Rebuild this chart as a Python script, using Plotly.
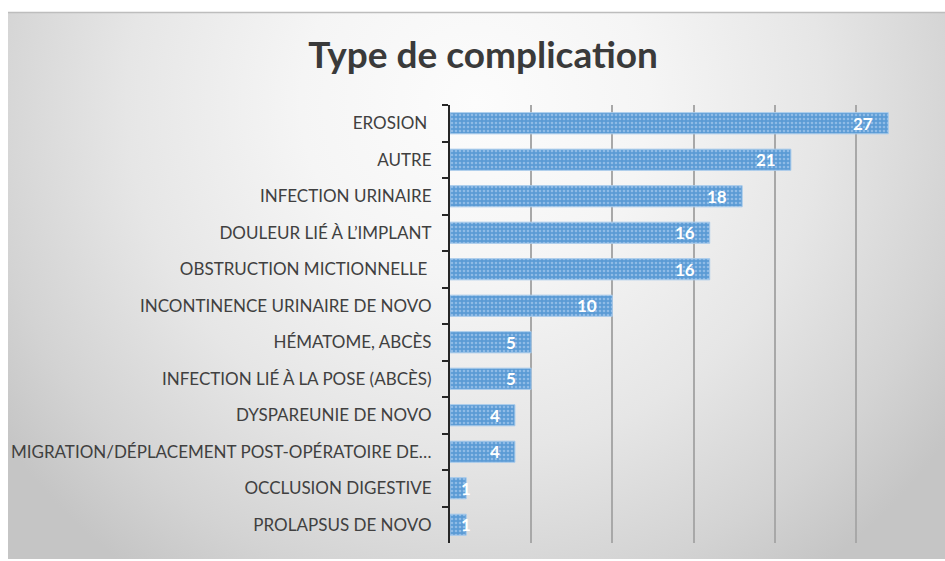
import base64
import plotly.graph_objects as go

categories = [
    "EROSION\u00a0",
    "AUTRE",
    "INFECTION URINAIRE",
    "DOULEUR LIÉ À L\u2019IMPLANT",
    "OBSTRUCTION MICTIONNELLE\u00a0",
    "INCONTINENCE URINAIRE DE NOVO",
    "HÉMATOME, ABCÈS",
    "INFECTION LIÉ À LA POSE (ABCÈS)",
    "DYSPAREUNIE DE NOVO",
    "MIGRATION/DÉPLACEMENT POST-OPÉRATOIRE DE\u2026",
    "OCCLUSION DIGESTIVE",
    "PROLAPSUS DE NOVO",
]
values = [27, 21, 18, 16, 16, 10, 5, 5, 4, 4, 1, 1]
title_text = "Type de complication"

W, H = 945, 561
L, R, T, B = 450, 8, 105, 18
pw, ph = W - L - R, H - T - B

def px_x(p):
    return (p - L) / pw

def px_y(p):
    return (H - B - p) / ph

# radial gradient background as svg image
bx0, by0, bx1, by1 = 8, 12.5, 945, 559
bw, bh = bx1 - bx0, by1 - by0
svg = f'''<svg xmlns="http://www.w3.org/2000/svg" width="{bw}" height="{bh}" viewBox="0 0 {bw} {bh}" preserveAspectRatio="none">
<defs><radialGradient id="g" gradientUnits="userSpaceOnUse" cx="0" cy="0" r="1"
 gradientTransform="translate(467,90) scale(580,580)">
<stop offset="0" stop-color="#fcfcfc"/>
<stop offset="0.3" stop-color="#f5f5f5"/>
<stop offset="0.6" stop-color="#e6e6e6"/>
<stop offset="0.85" stop-color="#d3d3d3"/>
<stop offset="1.0" stop-color="#c5c5c5"/>
</radialGradient></defs>
<rect x="0" y="0" width="{bw}" height="{bh}" fill="url(#g)"/>
</svg>'''
src = "data:image/svg+xml;base64," + base64.b64encode(svg.encode()).decode()

fig = go.Figure()
fig.add_trace(go.Bar(
    x=values, y=categories, orientation="h",
    marker=dict(
        color="#5b9bd5",
        line=dict(color="#a9cbeb", width=1),
        pattern=dict(shape=".", fgcolor="#8fbbe6", bgcolor="#5b9bd5",
                     size=4, solidity=0.35, fillmode="replace"),
    ),
    hoverinfo="skip",
))

annotations = []
for c, v in zip(categories, values):
    annotations.append(dict(
        x=v, y=c, xref="x", yref="y", text=f"<b>{v}</b>", showarrow=False,
        xanchor="right" if v >= 2 else "center", xshift=-13 if v >= 2 else 0,
        font=dict(family="Lato", size=17, color="white"),
    ))

fig.update_layout(
    width=W, height=H,
    margin=dict(l=L, r=R, t=T, b=B),
    paper_bgcolor="white",
    plot_bgcolor="rgba(0,0,0,0)",
    showlegend=False,
    bargap=0.42,
    title=dict(text=f"<b>{title_text}</b>", x=483 / W, xref="container", xanchor="center",
               y=1 - 55 / H, yref="container", yanchor="middle",
               font=dict(family="Lato", size=37, color="#3a3a3a")),
    images=[dict(source=src, xref="paper", yref="paper",
                 x=px_x(bx0), y=px_y(by0), sizex=bw / pw, sizey=bh / ph,
                 xanchor="left", yanchor="top", sizing="stretch", layer="below")],
    shapes=[dict(type="line", xref="paper", yref="paper",
                 x0=px_x(bx0), x1=px_x(W), y0=px_y(by0), y1=px_y(by0),
                 line=dict(color="#bdbdbd", width=1.5))],
    annotations=annotations,
    xaxis=dict(range=[0, 30], dtick=5, showgrid=True, gridcolor="#a8a8a8", gridwidth=1.5,
               showticklabels=False, zeroline=False, showline=False, fixedrange=True),
    yaxis=dict(type="category", autorange="reversed", showline=True, linecolor="#262626",
               linewidth=2, ticks="outside", ticklen=6, tickwidth=2, tickcolor="#262626",
               tickson="boundaries", ticklabelstandoff=13, fixedrange=True,
               tickfont=dict(family="Lato", size=17, color="#404040"), showgrid=False),
)

fig.write_html("out.html", config={"displayModeBar": False},
               post_script="document.body.style.margin='0';document.body.style.padding='0';")
